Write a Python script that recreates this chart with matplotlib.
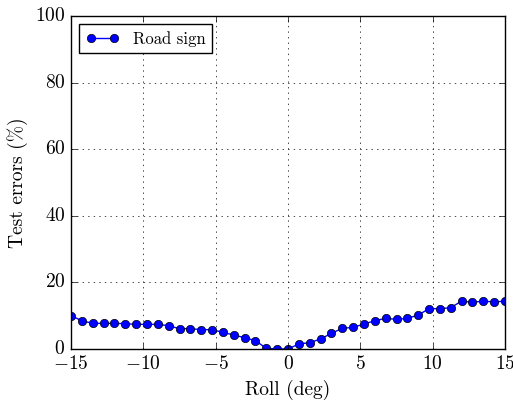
import numpy as np
import matplotlib
matplotlib.use('Agg')
import matplotlib.pyplot as plt

plt.style.use('classic')
plt.rcParams['font.family'] = 'serif'
plt.rcParams['font.serif'] = ['cmr10', 'DejaVu Serif']
plt.rcParams['mathtext.fontset'] = 'cm'
plt.rcParams['axes.formatter.use_mathtext'] = True

roll = np.arange(-15, 15.01, 0.75)
errors = [10.0, 8.5, 7.7, 7.7, 7.7, 7.6, 7.4, 7.4, 7.4, 7.0, 6.1, 6.1, 5.8, 5.8,
          5.0, 4.2, 3.4, 2.5, 0.2, 0.0, 0.0,
          1.5, 1.9, 3.0, 4.7, 6.2, 6.5, 7.5, 8.5, 9.2, 8.9, 9.2, 10.2, 12.1,
          12.1, 12.4, 14.4, 14.0, 14.4, 14.1, 14.4]

fig = plt.figure(figsize=(5.13, 4.04), dpi=100, facecolor='white')
ax = fig.add_axes([71/513, 1-349/404, (505-71)/513, (349-16)/404])

ax.plot(roll, errors, '-o', color='blue', markerfacecolor='blue',
        markeredgecolor='black', markersize=6, linewidth=1, label='Road sign')

ax.set_xlim(-15, 15)
ax.set_ylim(0, 100)
ax.set_xticks([-15, -10, -5, 0, 5, 10, 15])
ax.set_yticks([0, 20, 40, 60, 80, 100])
ax.grid(True, linestyle=':', color='black')
ax.tick_params(labelsize=14)
ax.set_xlabel('Roll (deg)', fontsize=14)
ax.set_ylabel('Test errors (%)', fontsize=14)
ax.legend(loc='upper left', fontsize=12, fancybox=False)

fig.savefig('out.png', dpi=100, facecolor='white')
